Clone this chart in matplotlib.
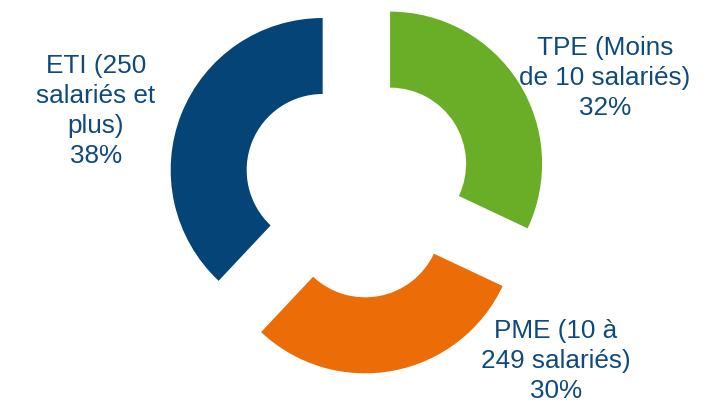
import matplotlib.pyplot as plt

# Répartition par taille d'entreprise
categories = ["TPE (Moins\nde 10 salariés)", "PME (10 à\n249 salariés)", "ETI (250\nsalariés et\nplus)"]
shares = [32, 30, 38]
colors = ["#6AAE27", "#EC6C08", "#044477"]

plt.rcParams["font.family"] = ["Liberation Sans", "DejaVu Sans"]

fig = plt.figure(figsize=(7.06, 4.06), dpi=100)
ax = fig.add_axes([0, 0, 1, 1])

ax.pie(shares, colors=colors, startangle=90, counterclock=False,
       radius=1, explode=[0.25] * len(shares),
       wedgeprops=dict(width=0.5, edgecolor="none"))

ax.set_xlim(-358 / 152, (706 - 358) / 152)
ax.set_ylim(-(406 - 185) / 152, 185 / 152)
ax.set_aspect("equal", adjustable="box")
ax.axis("off")

# label positions (pixel coords from top-left)
label_pos = [(605, 78), (556, 361), (96, 111)]
for cat, val, (px, py) in zip(categories, shares, label_pos):
    ax.text(px / 706, 1 - py / 406, f"{cat}\n{val}%", transform=ax.transAxes,
            ha="center", va="center", fontsize=18.8, color="#0F4A7E",
            linespacing=1.3)

plt.savefig("out.png", dpi=100)
